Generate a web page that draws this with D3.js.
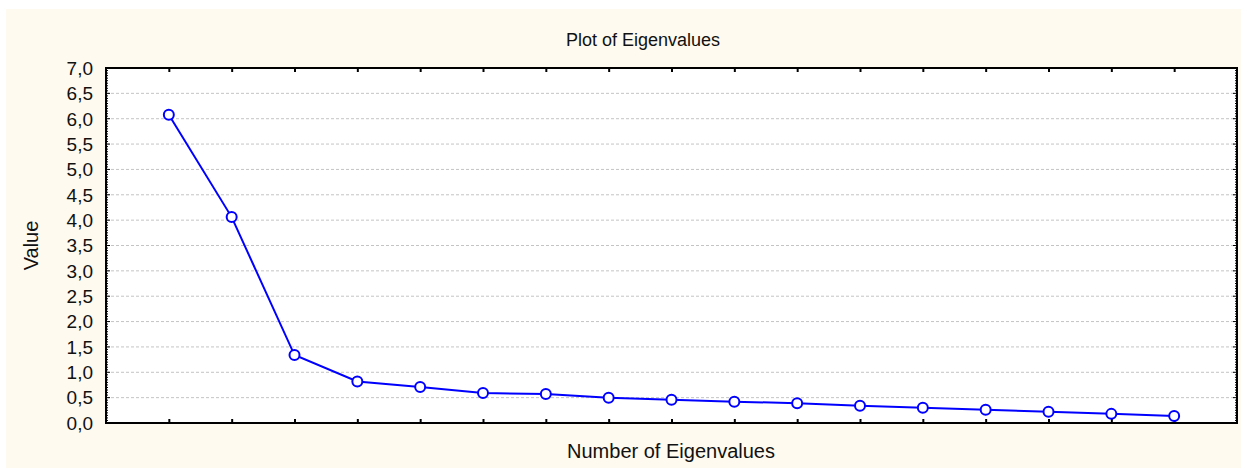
<!DOCTYPE html>
<html>
<head>
<meta charset="utf-8">
<script src="https://cdn.jsdelivr.net/npm/d3@7"></script>
<style>
  body { margin: 0; background: #ffffff; }
  text { font-family: "Liberation Sans", Arial, sans-serif; fill: #111; }
</style>
</head>
<body>
<script>
// eigenvalue numbers and their values
var eigenNumbers = [1, 2, 3, 4, 5, 6, 7, 8, 9, 10, 11, 12, 13, 14, 15, 16, 17];
var eigenValues = [6.08, 4.06, 1.34, 0.82, 0.71, 0.59, 0.57, 0.50, 0.46, 0.42, 0.39, 0.34, 0.30, 0.26, 0.22, 0.18, 0.14];
var yTicks = [0, 0.5, 1, 1.5, 2, 2.5, 3, 3.5, 4, 4.5, 5, 5.5, 6, 6.5, 7];

var width = 1241;
var height = 468;
var margin = {left: 106, right: 4, top: 68, bottom: 45};

var svg = d3.select("body").append("svg")
    .attr("width", width)
    .attr("height", height);

// cream panel behind everything
svg.append("rect")
    .attr("x", 6).attr("y", 9)
    .attr("width", width - 6).attr("height", height - 9)
    .attr("fill", "#fefaef");

var x = d3.scaleLinear().domain([0, 18]).range([margin.left, width - margin.right]);
var y = d3.scaleLinear().domain([0, 7]).range([height - margin.bottom, margin.top]);

// plot area
svg.append("rect")
    .attr("x", x(0)).attr("y", y(7))
    .attr("width", x(18) - x(0)).attr("height", y(0) - y(7))
    .attr("fill", "#ffffff");

// dashed grid lines
svg.append("g").selectAll("line")
    .data(yTicks.filter(function (d) { return d > 0 && d < 7; }))
    .enter().append("line")
    .attr("x1", x(0)).attr("x2", x(18))
    .attr("y1", function (d) { return y(d); })
    .attr("y2", function (d) { return y(d); })
    .attr("stroke", "#c4c4c4")
    .attr("stroke-width", 1)
    .attr("stroke-dasharray", "3,2");

// left axis, ticks inward
var minor = d3.range(0, 7.001, 0.05);
var leftAxis = svg.append("g").attr("transform", "translate(" + x(0) + ",0)");
leftAxis.selectAll("line.minor").data(minor).enter().append("line")
    .attr("x1", 0).attr("x2", function (d, i) { return i % 10 === 0 ? 4 : 2; })
    .attr("y1", function (d) { return y(d); }).attr("y2", function (d) { return y(d); })
    .attr("stroke", "#000").attr("stroke-width", 1);
leftAxis.selectAll("text").data(yTicks).enter().append("text")
    .attr("x", -13)
    .attr("y", function (d) { return y(d); })
    .attr("dy", "0.36em")
    .attr("text-anchor", "end")
    .style("font-size", "19px")
    .text(function (d) { return d3.format(".1f")(d).replace(".", ","); });

// right axis, ticks inward
var rightAxis = svg.append("g").attr("transform", "translate(" + x(18) + ",0)");
rightAxis.selectAll("line").data(minor).enter().append("line")
    .attr("x1", 0).attr("x2", function (d, i) { return i % 10 === 0 ? -4 : -2; })
    .attr("y1", function (d) { return y(d); }).attr("y2", function (d) { return y(d); })
    .attr("stroke", "#000").attr("stroke-width", 1);

// bottom and top axes, ticks inward
var xAxisBottom = d3.axisBottom(x).tickValues(eigenNumbers).tickSize(-4).tickFormat("");
svg.append("g")
    .attr("transform", "translate(0," + y(0) + ")")
    .call(xAxisBottom)
    .call(function (g) { g.select(".domain").remove(); })
    .selectAll("line").attr("stroke-width", 2).attr("stroke", "#000");
var xAxisTop = d3.axisTop(x).tickValues(eigenNumbers).tickSize(-4).tickFormat("");
svg.append("g")
    .attr("transform", "translate(0," + y(7) + ")")
    .call(xAxisTop)
    .call(function (g) { g.select(".domain").remove(); })
    .selectAll("line").attr("stroke-width", 2).attr("stroke", "#000");

// frame
svg.append("rect")
    .attr("x", x(0)).attr("y", y(7))
    .attr("width", x(18) - x(0)).attr("height", y(0) - y(7))
    .attr("fill", "none")
    .attr("stroke", "#000")
    .attr("stroke-width", 2);

// the eigenvalue line
var pts = eigenNumbers.map(function (n, i) { return [n, eigenValues[i]]; });
svg.append("path")
    .datum(pts)
    .attr("fill", "none")
    .attr("stroke", "#0000ff")
    .attr("stroke-width", 2)
    .attr("d", d3.line().x(function (d) { return x(d[0]); }).y(function (d) { return y(d[1]); }));

svg.append("g").selectAll("circle")
    .data(pts).enter().append("circle")
    .attr("cx", function (d) { return x(d[0]); })
    .attr("cy", function (d) { return y(d[1]); })
    .attr("r", 5)
    .attr("fill", "#ffffff")
    .attr("stroke", "#0000ff")
    .attr("stroke-width", 2);

// titles
svg.append("text")
    .attr("x", 643).attr("y", 46)
    .attr("text-anchor", "middle")
    .style("font-size", "18px")
    .text("Plot of Eigenvalues");
svg.append("text")
    .attr("x", 671).attr("y", 458)
    .attr("text-anchor", "middle")
    .style("font-size", "20px")
    .text("Number of Eigenvalues");
svg.append("text")
    .attr("transform", "translate(38," + y(3.5) + ") rotate(-90)")
    .attr("text-anchor", "middle")
    .style("font-size", "20px")
    .text("Value");
</script>
</body>
</html>
